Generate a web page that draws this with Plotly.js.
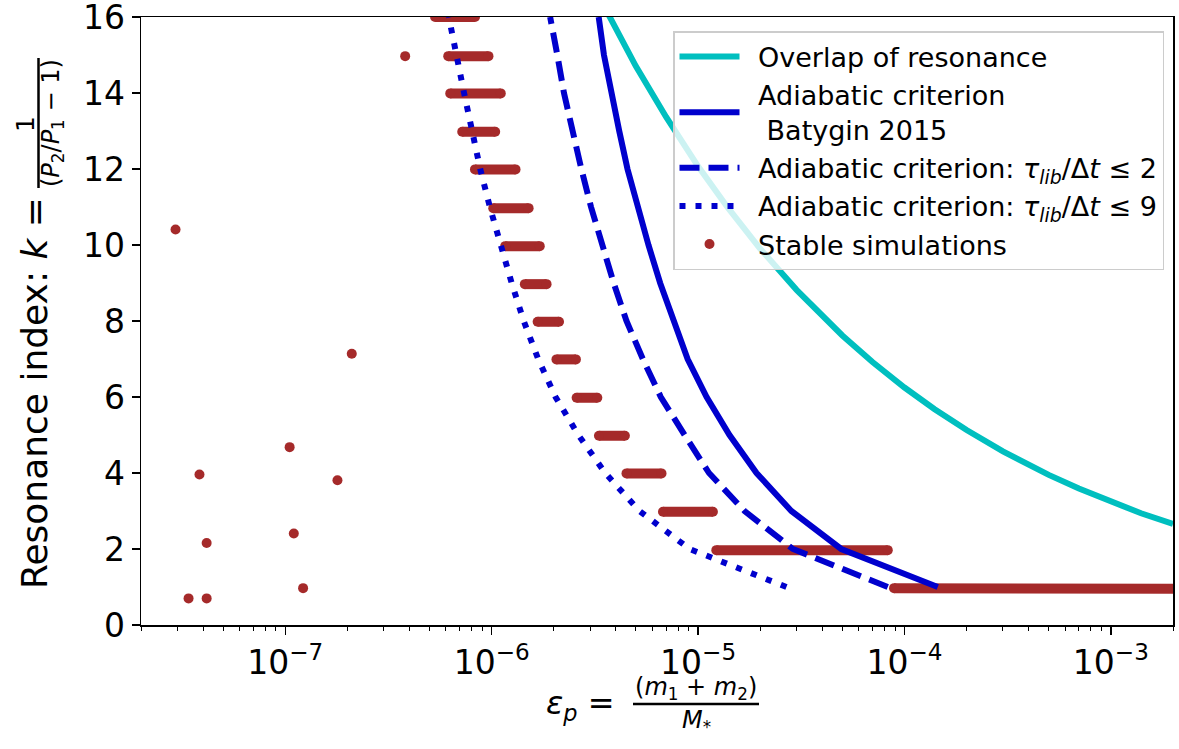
<!DOCTYPE html>
<html>
<head>
<meta charset="utf-8">
<script src="https://cdn.plot.ly/plotly-3.0.1.min.js"></script>
<style>html,body{margin:0;padding:0;background:#fff;}#chart{width:1179px;height:749px;}</style>
</head>
<body>
<div id="chart"></div>
<script>
// ---------- data ----------
// resonance index grid used by the adiabatic criteria curves
const kGrid = [1, 2, 3, 4, 5, 6, 7, 8, 9, 10, 11, 12, 13, 14, 15, 16];
// Adiabatic criterion (Batygin 2015) : epsilon at each k
const epsBatygin = [1.45e-4, 4.94e-5, 2.83e-5, 1.92e-5, 1.42e-5, 1.10e-5, 8.9e-6, 7.6e-6, 6.55e-6, 5.75e-6, 5.1e-6, 4.55e-6, 4.15e-6, 3.8e-6, 3.5e-6, 3.3e-6];
// Adiabatic criterion tau_lib/dt <= 2
const epsTau2 = [8.3e-5, 2.88e-5, 1.68e-5, 1.13e-5, 8.6e-6, 6.6e-6, 5.4e-6, 4.5e-6, 3.9e-6, 3.42e-6, 3.03e-6, 2.72e-6, 2.46e-6, 2.24e-6, 2.08e-6, 1.92e-6];
// Adiabatic criterion tau_lib/dt <= 9
const epsTau9 = [2.68e-5, 9.1e-6, 5.2e-6, 3.55e-6, 2.63e-6, 2.04e-6, 1.68e-6, 1.43e-6, 1.25e-6, 1.1e-6, 9.8e-7, 8.8e-7, 8.0e-7, 7.35e-7, 6.75e-7, 6.2e-7];
// Overlap of resonance curve
const overlapEps = [3.5e-6, 3.73e-6, 5e-6, 7e-6, 1e-5, 1.4e-5, 2e-5, 3e-5, 5e-5, 7e-5, 1e-4, 1.4e-4, 2e-4, 3e-4, 5e-4, 7e-4, 1e-3, 1.4e-3, 2e-3];
const overlapK   = [16.29, 16.0, 14.7, 13.37, 12.07, 10.97, 9.9, 8.82, 7.62, 6.92, 6.25, 5.68, 5.13, 4.57, 3.95, 3.59, 3.24, 2.94, 2.66];
// Stable simulations: isolated runs
const stableEps = [2.94e-8, 3.40e-8, 3.84e-8, 4.16e-8, 4.16e-8, 1.05e-7, 1.10e-7, 1.22e-7, 1.79e-7, 2.10e-7, 3.81e-7];
const stableK   = [10.41, 0.70, 3.96, 2.16, 0.70, 4.68, 2.41, 0.97, 3.81, 7.14, 14.97];
// Stable simulations: dense runs forming horizontal bands (first / last run of each band)
const bandStartEps = [5.32e-7, 6.16e-7, 6.3e-7, 7.2e-7, 8.3e-7, 1.018e-6, 1.163e-6, 1.448e-6, 1.67e-6, 2.06e-6, 2.58e-6, 3.31e-6, 4.5e-6, 6.76e-6, 1.226e-5, 8.9e-5];
const bandEndEps   = [8.3e-7, 9.65e-7, 1.107e-6, 1.04e-6, 1.305e-6, 1.51e-6, 1.71e-6, 1.845e-6, 2.12e-6, 2.56e-6, 3.25e-6, 4.42e-6, 6.65e-6, 1.18e-5, 8.3e-5, 2.5e-3];
const bandStartK   = [16.0, 14.97, 13.99, 12.98, 11.99, 10.97, 9.97, 8.97, 7.98, 6.99, 5.98, 4.98, 3.99, 2.98, 1.97, 0.97];
const bandEndK     = [16.0, 14.97, 13.99, 12.98, 11.99, 10.97, 9.97, 8.97, 7.98, 6.99, 5.98, 4.98, 3.99, 2.98, 1.97, 0.95];
// axis ticks
const xTickVals = [1e-7, 1e-6, 1e-5, 1e-4, 1e-3];
const xTickText = ['10<sup>\u22127</sup>', '10<sup>\u22126</sup>', '10<sup>\u22125</sup>', '10<sup>\u22124</sup>', '10<sup>\u22123</sup>'];
const yTickVals = [0, 2, 4, 6, 8, 10, 12, 14, 16];
const yTickText = ['0', '2', '4', '6', '8', '10', '12', '14', '16'];

// ---------- styling ----------
const BROWN = '#a52a2a';
const BLUE = '#0000cd';
const CYAN = '#00bfbf';
const FONT = 'DejaVu Sans, Arial, sans-serif';
const SP = '\u2002';

// build band trace arrays (segments separated by gaps)
const bandX = [], bandY = [];
for (let i = 0; i < bandStartEps.length; i++) {
  bandX.push(bandStartEps[i], bandEndEps[i], null);
  bandY.push(bandStartK[i], bandEndK[i], null);
}

const traces = [
  {x: bandX, y: bandY, type: 'scatter', mode: 'lines+markers', showlegend: false,
   line: {color: BROWN, width: 10}, marker: {color: BROWN, size: 10}, connectgaps: false, hoverinfo: 'skip'},
  {x: stableEps, y: stableK, type: 'scatter', mode: 'markers', name: SP + 'Stable simulations', legendrank: 5,
   marker: {color: BROWN, size: 10}},
  {x: overlapEps, y: overlapK, type: 'scatter', mode: 'lines', name: SP + 'Overlap of resonance', legendrank: 1,
   line: {color: CYAN, width: 6}},
  {x: epsBatygin, y: kGrid, type: 'scatter', mode: 'lines', name: SP + 'Adiabatic criterion<br>' + SP + ' Batygin 2015', legendrank: 2,
   line: {color: BLUE, width: 6}},
  {x: epsTau2, y: kGrid, type: 'scatter', mode: 'lines', legendrank: 3,
   name: SP + 'Adiabatic criterion: <i>\u03c4</i><sub><i>lib</i></sub>/\u0394<i>t</i> \u2264 2',
   line: {color: BLUE, width: 6, dash: '20px,9px'}},
  {x: epsTau9, y: kGrid, type: 'scatter', mode: 'lines', legendrank: 4,
   name: SP + 'Adiabatic criterion: <i>\u03c4</i><sub><i>lib</i></sub>/\u0394<i>t</i> \u2264 9',
   line: {color: BLUE, width: 6, dash: '6px,10px'}}
];

// pixel helpers for title placement (plot area: x 141..1173, y 17..625)
const L = 141, R = 1173, T = 17, B = 625;
const px = v => (v - L) / (R - L);
const py = v => (B - v) / (B - T);

const annotations = [
  // y title
  {text: 'Resonance index: <i>k</i> =', textangle: -90, x: px(34), y: py(393), xref: 'paper', yref: 'paper',
   showarrow: false, xanchor: 'center', yanchor: 'middle', font: {family: FONT, size: 36, color: '#000'}},
  {text: '1', textangle: -90, x: px(25), y: py(124), xref: 'paper', yref: 'paper',
   showarrow: false, xanchor: 'center', yanchor: 'middle', font: {family: FONT, size: 25, color: '#000'}},
  {text: '(<i>P</i><sub>2</sub>/<i>P</i><sub>1</sub> \u2212 1)', textangle: -90, x: px(53), y: py(123), xref: 'paper', yref: 'paper',
   showarrow: false, xanchor: 'center', yanchor: 'middle', font: {family: FONT, size: 24, color: '#000'}},
  // x title
  {text: '<i>\u03b5</i><sub><i>p</i></sub> =', x: px(580), y: py(705), xref: 'paper', yref: 'paper',
   showarrow: false, xanchor: 'center', yanchor: 'middle', font: {family: FONT, size: 32, color: '#000'}},
  {text: '(<i>m</i><sub>1</sub> + <i>m</i><sub>2</sub>)', x: px(696), y: py(688), xref: 'paper', yref: 'paper',
   showarrow: false, xanchor: 'center', yanchor: 'middle', font: {family: FONT, size: 24, color: '#000'}},
  {text: '<i>M</i><sub>*</sub>', x: px(696), y: py(721), xref: 'paper', yref: 'paper',
   showarrow: false, xanchor: 'center', yanchor: 'middle', font: {family: FONT, size: 24, color: '#000'}}
];

const shapes = [
  {type: 'line', xref: 'paper', yref: 'paper', x0: px(38.5), x1: px(38.5), y0: py(58), y1: py(188), line: {color: '#000', width: 2.5}},
  {type: 'line', xref: 'paper', yref: 'paper', x0: px(633), x1: px(759), y0: py(704), y1: py(704), line: {color: '#000', width: 2.5}}
];

const axisCommon = {
  showline: true, mirror: true, linecolor: '#000', linewidth: 1.5,
  ticks: 'outside', ticklen: 8, tickwidth: 1.5, tickcolor: '#000',
  showgrid: false, zeroline: false, ticklabeloverflow: 'allow',
  tickfont: {family: FONT, size: 33, color: '#000'}
};

const layout = {
  width: 1179, height: 749,
  margin: {l: L, r: 1179 - R, t: T, b: 749 - B, pad: 0},
  paper_bgcolor: '#fff', plot_bgcolor: '#fff',
  font: {family: FONT, color: '#000'},
  showlegend: true,
  xaxis: Object.assign({}, axisCommon, {
    type: 'log', range: [Math.log10(2e-8), Math.log10(2e-3)],
    tickmode: 'array', tickvals: xTickVals, ticktext: xTickText,
    minor: {ticks: 'outside', ticklen: 4, tickwidth: 1, tickcolor: '#000', dtick: 'D1', showgrid: false}
  }),
  yaxis: Object.assign({}, axisCommon, {
    range: [0, 16.0001], tickmode: 'array', tickvals: yTickVals, ticktext: yTickText
  }),
  legend: {
    x: px(673), y: py(31), xanchor: 'left', yanchor: 'top',
    bgcolor: 'rgba(255,255,255,0.8)', bordercolor: '#cccccc', borderwidth: 1.5,
    font: {family: FONT, size: 27, color: '#000'}, itemwidth: 60, tracegroupgap: 0
  },
  annotations: annotations,
  shapes: shapes
};

Plotly.newPlot('chart', traces, layout, {displayModeBar: false, staticPlot: true});
</script>
</body>
</html>
